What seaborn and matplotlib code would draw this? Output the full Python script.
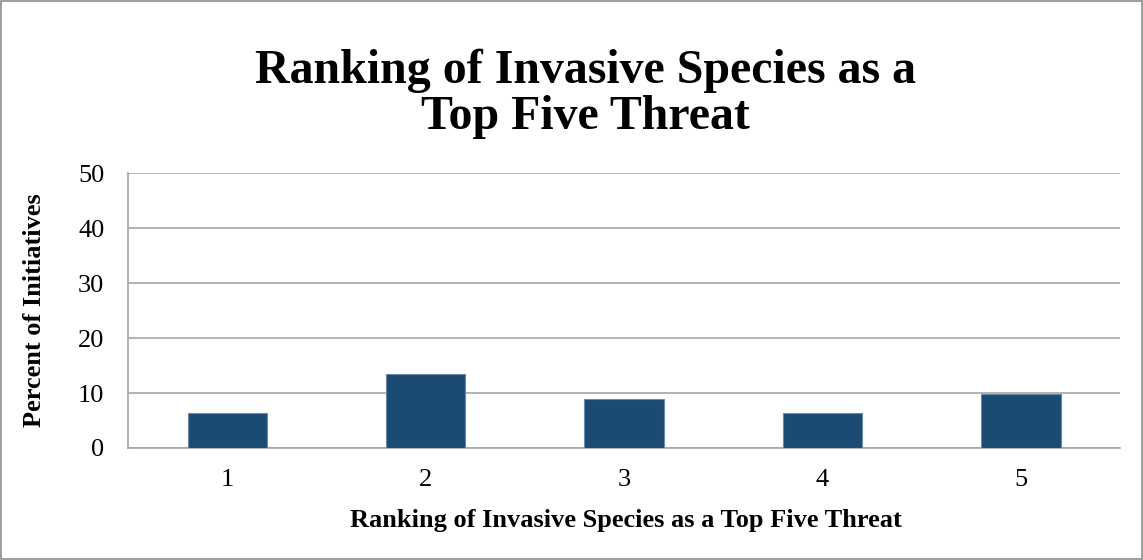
import matplotlib
matplotlib.use("Agg")
import matplotlib.pyplot as plt
import matplotlib.patches as mpatches
import numpy as np
import pandas as pd
import seaborn as sns

rankings = ["1", "2", "3", "4", "5"]
percents = [6.3, 13.4, 9.0, 6.3, 9.9]
y_ticks = [0, 10, 20, 30, 40, 50]

sns.set_style("white")
plt.rcParams["font.family"] = ["Liberation Serif", "DejaVu Serif"]
plt.rcParams["text.color"] = "black"
plt.rcParams["axes.labelcolor"] = "black"

df = pd.DataFrame({"Ranking": rankings, "Percent": percents})

fig = plt.figure(figsize=(11.43, 5.6), dpi=100)
ax = fig.add_axes([0.112, 0.2, 0.868, 0.491])

sns.barplot(data=df, x="Ranking", y="Percent", color="#1B4A73", width=0.4,
            saturation=1, edgecolor="#6A8AA8", linewidth=0.8, ax=ax, zorder=3)

ax.set_ylim(0, 50)
ax.set_xlim(-0.5, len(rankings) - 0.5)
ax.set_yticks(y_ticks)
ax.yaxis.grid(True, color="#A6A6A6", linewidth=1.2, zorder=0)
ax.set_axisbelow(True)

for side in ["top", "right"]:
    ax.spines[side].set_visible(False)
for side in ["left", "bottom"]:
    ax.spines[side].set_color("#A6A6A6")
    ax.spines[side].set_linewidth(1.2)

# category boundaries carry the tick marks on the x axis
ax.set_xticks(np.arange(-0.5, len(rankings)), minor=True)
ax.tick_params(axis="x", which="major", length=0, labelsize=19, pad=15, labelcolor="black")
ax.tick_params(axis="x", which="minor", length=7, color="#A6A6A6", width=1.2, direction="out")
ax.tick_params(axis="y", which="major", length=6, color="#999999", width=1.4,
               direction="in", labelsize=19, pad=17, labelcolor="black")

ax.set_xlabel("Ranking of Invasive Species as a Top Five Threat",
              fontsize=19, fontweight="bold")
ax.set_ylabel("Percent of Initiatives", fontsize=19, fontweight="bold")
ax.xaxis.set_label_coords(0.502, -0.222)
ax.yaxis.set_label_coords(-0.083, 0.5)

fig.text(0.512, 0.832, "Ranking of Invasive Species as a\nTop Five Threat",
         ha="center", va="center", fontsize=34.5, fontweight="bold", linespacing=1.05)

fig.patches.append(mpatches.Rectangle((0.001, 0.001), 0.998, 0.997, transform=fig.transFigure,
                                      fill=False, edgecolor="#8C8C8C", linewidth=1.2))

fig.savefig("out.png", dpi=100, facecolor="white")
